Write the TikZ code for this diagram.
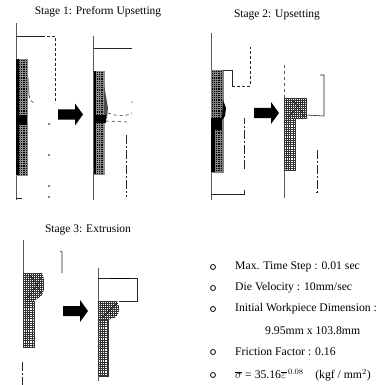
\documentclass[tikz,border=0pt]{standalone}
\usepackage{fontspec}
\setmainfont{Liberation Serif}
\usetikzlibrary{positioning}
\tikzset{
  stagetitle/.style={font=\fontsize{11.5}{13}\selectfont},
  infotext/.style={font=\fontsize{11.7}{13}\selectfont,anchor=west,inner sep=0pt},
  bulletmark/.style={draw,line width=0.8pt,circle,inner sep=0pt,minimum size=5pt},
  dieline/.style={line width=0.6pt,black!85},
  dieskip/.style={line width=0.6pt,black!85,dash pattern=on 9pt off 2pt on 2pt off 2pt},
  axisline/.style={line width=0.6pt,black!65},
  bigarrow/.style={fill=black},
  headline/.style={line width=0.5pt,black!90},
}
% mesh block: x0,y0,width,height,step,fill,line colour
\newcommand{\meshblock}[7]{
  \fill[#6] (#1,#2) rectangle ++(#3,#4);
  \begin{scope}[shift={(#1,#2)}]
    \foreach \gx in {0,#5,...,#3}
      \draw[#7,line width=0.4pt] (\gx,0) -- (\gx,#4);
    \foreach \gy in {0,#5,...,#4}
      \draw[#7,line width=0.4pt] (0,\gy) -- (#3,\gy);
    \draw[#7,line width=0.4pt] (0,0) rectangle (#3,#4);
  \end{scope}
}
% block arrow, tip at the right
\newcommand{\blockarrow}[2]{
  \fill[bigarrow,shift={(#1,#2)}] (0,-5) -- (17,-5) -- (17,-11) -- (25,0) -- (17,11) -- (17,5) -- (0,5) -- cycle;
}
\begin{document}
\begin{tikzpicture}[x=1pt,y=-1pt]
  \useasboundingbox (0,0) rectangle (379,385);
  % Titles
  \node[stagetitle] (title1) at (98,12) {Stage 1: Preform Upsetting};
  \node[stagetitle] (title2) at (277,15) {Stage 2: Upsetting};
  \node[stagetitle] (title3) at (88,229.5) {Stage 3: Extrusion};

  % Stage 1, before
  \draw[axisline] (16,23) -- (16,200);
  \draw[dieline] (16,36) -- (42,36);
  \draw[dieline,densely dashed] (42,36) -- (55,36) -- (55,103);
  \meshblock{16}{59}{11}{116}{2.2}{black}{white!55!black}
  \fill[black] (16,59) rectangle (19,175);
  \fill[black] (16,115) rectangle (27,125);
  \draw[gray,line width=1pt] (28,78) -- (29,95);
  \draw[dieline,dashed] (29,95) .. controls (30,100) .. (35,104);
  \foreach \y in {124,155,186,197}
    \fill (49,\y) circle (0.8pt);
  \draw[dieline] (16,198) -- (22,198);

  \blockarrow{58}{114.5}

  % Stage 1, after
  \draw[axisline] (93.5,36) -- (93.5,200);
  \draw[dieline] (93.5,48) -- (132,48);
  \meshblock{94}{71}{10}{103}{2.2}{black}{white!55!black}
  \fill[black] (94,71) rectangle (96,174);
  \fill[black!70] (104,85) -- (108,108) -- (107,118) -- (104,123) -- cycle;
  \fill[black] (94,115) rectangle (106,123);
  \draw[dieline,dashed] (108,113) .. controls (118,117) and (128,116) .. (132,113);
  \fill (132,102) circle (0.7pt);
  \draw[dieline,dashed] (106,121) -- (127,122);
  \draw[dieskip] (126.5,135) -- (126.5,197);

  % Stage 2, before
  \draw[axisline] (211.5,33) -- (211.5,200);
  \meshblock{211}{70}{12}{102}{2.2}{black}{white!50!black}
  \fill[black] (211,118) rectangle (222,130);
  \fill[black] (211,130) rectangle (215,172);
  \fill[black] (223,100) -- (226,108) -- (225,116) -- (222,120) -- cycle;
  \draw[dieline] (223,70) -- (232,70) -- (232,86);
  \draw[dieline,densely dashed] (232,86) -- (250,86) -- (250,47);
  \draw[dieline] (211,194) -- (240,194);
  \draw[dieline] (240,194) -- (244,194) -- (244,190);
  \draw[dieskip,dash phase=3pt] (244,118) -- (244,170);

  \blockarrow{254}{113}

  % Stage 2, after
  \draw[axisline,dashed] (284,65) -- (284,98);
  \draw[axisline] (284,170) -- (284,198);
  \meshblock{284}{98}{22}{20}{2}{white}{black!80}
  \meshblock{284}{118}{11}{52}{2.2}{white}{black!80}
  \draw[headline] (288,118) .. controls (296,108) .. (304,100);
  \draw[headline] (292,100) .. controls (298,106) .. (304,116);
  \draw[dieline] (306,115) -- (324,116) -- (324,75) -- (320,75);
  \draw[dieskip] (317,150) -- (317,192) -- (315,192);

  % Stage 3, before
  \draw[axisline] (23,240) -- (23,273);
  \draw[dieline] (60,251) -- (62,252) -- (62,273);
  \begin{scope}
    \clip (23,273) -- (42,273) .. controls (45,280) and (45,292) .. (41,296) -- (34,301) -- (23,301) -- cycle;
    \meshblock{23}{273}{22}{28}{2}{white}{black!80}
    \draw[headline] (27,298) .. controls (34,290) .. (42,276);
    \draw[headline] (30,276) .. controls (36,282) .. (41,294);
  \end{scope}
  \meshblock{23}{301}{11}{46}{2.2}{white}{black!80}
  \draw[dieskip] (22,362) -- (22,385);

  \blockarrow{63}{311}

  % Stage 3, after
  \draw[axisline] (98,268) -- (98,301);
  \draw[dieline] (98,278) -- (137,278) -- (137,301) -- (119,301);
  \draw[line width=1pt] (110,278) -- (130,278);
  \begin{scope}
    \clip (98,301) -- (117,301) .. controls (120,306) and (120,314) .. (116,317) -- (108,320) -- (98,320) -- cycle;
    \meshblock{98}{301}{22}{19}{2}{white}{black!80}
    \draw[headline] (102,318) .. controls (108,312) .. (117,303);
  \end{scope}
  \meshblock{98}{320}{10}{56}{2.2}{white}{black!80}
  \draw[axisline] (98,376) -- (98,381);

  % Process data
  \node[bulletmark] (mark1) at (213,267) {};
  \node[bulletmark] (mark2) at (213,288) {};
  \node[bulletmark] (mark3) at (213,309) {};
  \node[bulletmark] (mark4) at (213,352) {};
  \node[bulletmark] (mark5) at (213,375) {};
  \node[infotext] (step) at (235,267) {Max. Time Step : 0.01 sec};
  \node[infotext] (velocity) at (235,288) {Die Velocity : 10mm/sec};
  \node[infotext] (dimension) at (235,309) {Initial Workpiece Dimension :};
  \node[infotext] (size) at (265,331) {9.95mm x 103.8mm};
  \node[infotext] (friction) at (235,352) {Friction Factor : 0.16};
  \node[infotext] (flow) at (235,375) {$\overline{\sigma}$ = 35.16$\overline{\varepsilon}^{\,0.08}$\quad (kgf / mm$^2$)};
\end{tikzpicture}
\end{document}
